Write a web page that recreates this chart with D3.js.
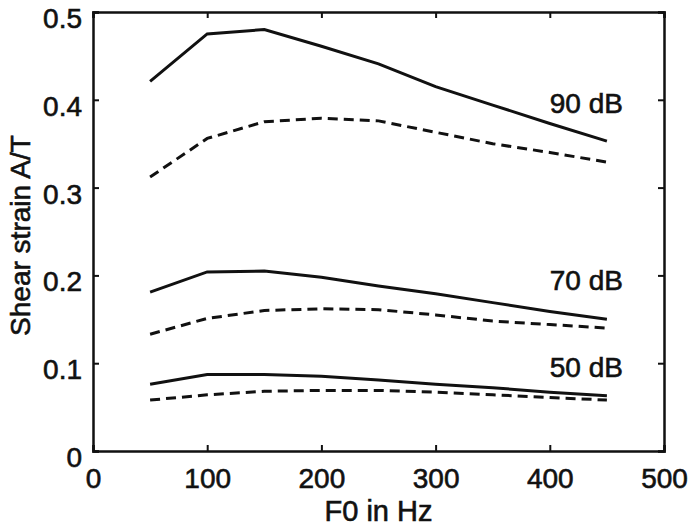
<!DOCTYPE html>
<html>
<head>
<meta charset="utf-8">
<title>Shear strain vs F0</title>
<script src="https://cdn.jsdelivr.net/npm/d3@7"></script>
<style>
    body { margin: 0; background: #fff; }
    svg text { font-family: "Liberation Sans", Arial, sans-serif; fill: #111; stroke: #111; stroke-width: 0.6px; }
</style>
</head>
<body>
<div class="chart-container"></div>
<script>
    // F0 sample points (Hz)
    var f0 = [50, 100, 150, 200, 250, 300, 350, 400, 450];

    // shear strain A/T, solid = one condition, dashed = the other
    var solid90 = [0.421, 0.475, 0.480, 0.461, 0.441, 0.415, 0.394, 0.373, 0.353];
    var dashed90 = [0.312, 0.356, 0.375, 0.379, 0.376, 0.363, 0.350, 0.340, 0.329];
    var solid70 = [0.181, 0.204, 0.205, 0.198, 0.188, 0.179, 0.169, 0.159, 0.150];
    var dashed70 = [0.133, 0.151, 0.160, 0.162, 0.161, 0.155, 0.148, 0.144, 0.140];
    var solid50 = [0.076, 0.087, 0.087, 0.085, 0.081, 0.076, 0.072, 0.067, 0.063];
    var dashed50 = [0.058, 0.064, 0.068, 0.069, 0.069, 0.067, 0.064, 0.061, 0.058];

    var levelLabels = ['90 dB', '70 dB', '50 dB'];
    var levelLabelY = [0.385, 0.183, 0.084];
    var labelF0 = 400;

    var xTicks = [0, 100, 200, 300, 400, 500];
    var yTicks = [0, 0.1, 0.2, 0.3, 0.4, 0.5];

    var W = 689, H = 528;
    var margin = {top: 12, right: 25, bottom: 77, left: 93};
    var width = W - margin.left - margin.right;
    var height = H - margin.top - margin.bottom;

    var x = d3.scaleLinear().domain([0, 500]).range([0, width]);
    var y = d3.scaleLinear().domain([0, 0.5]).range([height, 0]);

    var svg = d3.select('.chart-container').append('svg')
            .attr('width', W)
            .attr('height', H)
            .append('g')
            .attr('transform', 'translate(' + margin.left + ',' + margin.top + ')');

    var tickLen = 6;
    var fontSize = 28;

    // bottom axis with labels, ticks pointing inward
    var gx = svg.append('g')
            .attr('transform', 'translate(0,' + height + ')')
            .call(d3.axisBottom(x).tickValues(xTicks).tickSize(-tickLen).tickPadding(tickLen + 11)
                .tickFormat(d3.format('d')));
    gx.selectAll('text').style('font-size', fontSize + 'px');

    var gy = svg.append('g')
            .call(d3.axisLeft(y).tickValues(yTicks).tickSize(-tickLen).tickPadding(tickLen + 5)
                .tickFormat(function (d) { return d === 0 ? '0' : d3.format('.1f')(d); }));
    gy.selectAll('text')
            .style('font-size', fontSize + 'px')
            .attr('dy', '0.55em');

    // top and right borders with inward ticks, no labels
    svg.append('g')
            .call(d3.axisTop(x).tickValues(xTicks).tickSize(-tickLen).tickFormat(''));
    svg.append('g')
            .attr('transform', 'translate(' + width + ',0)')
            .call(d3.axisRight(y).tickValues(yTicks).tickSize(-tickLen).tickFormat(''));

    svg.selectAll('.domain').attr('stroke', '#111').attr('stroke-width', 2.5);
    svg.selectAll('.tick line').attr('stroke', '#111').attr('stroke-width', 2);

    // axis titles
    svg.append('text')
            .attr('x', width / 2)
            .attr('y', height + 70)
            .attr('text-anchor', 'middle')
            .style('font-size', '29px')
            .text('F0 in Hz');

    svg.append('text')
            .attr('transform', 'translate(' + (-63) + ',' + (height / 2 + 4) + ') rotate(-90)')
            .attr('text-anchor', 'middle')
            .style('font-size', fontSize + 'px')
            .text('Shear strain A/T');

    var line = d3.line()
            .x(function (d) { return x(d[0]); })
            .y(function (d) { return y(d[1]); });

    var series = [
        {values: solid90, dash: null},
        {values: dashed90, dash: '10,6'},
        {values: solid70, dash: null},
        {values: dashed70, dash: '10,6'},
        {values: solid50, dash: null},
        {values: dashed50, dash: '10,6'}
    ];

    svg.selectAll('path.series')
            .data(series)
            .enter()
            .append('path')
            .attr('class', 'series')
            .attr('fill', 'none')
            .attr('stroke', '#111')
            .attr('stroke-width', 3)
            .attr('stroke-dasharray', function (d) { return d.dash; })
            .attr('d', function (d) { return line(d3.zip(f0, d.values)); });

    svg.selectAll('text.level')
            .data(levelLabels)
            .enter()
            .append('text')
            .attr('class', 'level')
            .attr('x', x(labelF0))
            .attr('y', function (d, i) { return y(levelLabelY[i]); })
            .style('font-size', fontSize + 'px')
            .text(function (d) { return d; });
</script>
</body>
</html>
